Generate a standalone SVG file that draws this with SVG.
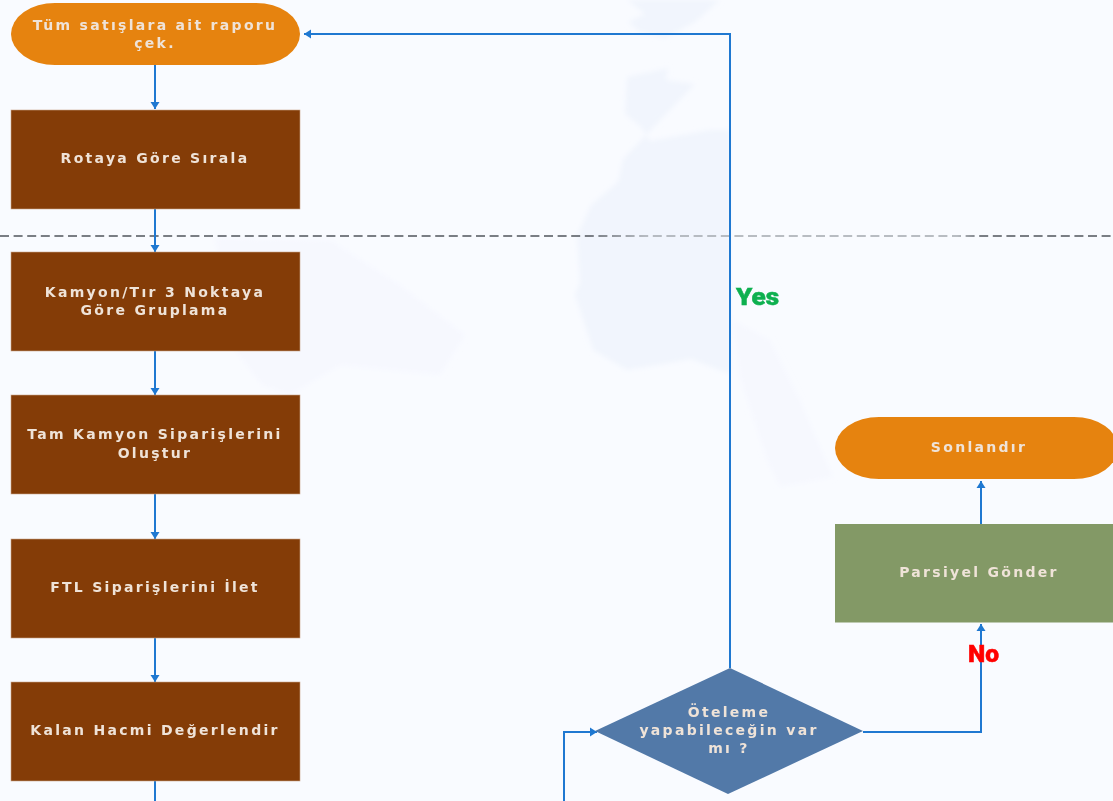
<svg xmlns="http://www.w3.org/2000/svg" width="1113" height="801" viewBox="0 0 1113 801">
<style>
.t{font-family:"DejaVu Sans",sans-serif;font-size:14px;font-weight:700;fill:#efe3d8;text-anchor:middle;letter-spacing:2.300px;filter:url(#s)}
.b{fill:#843c07;stroke:#c9a58a;stroke-width:.6}
.o{fill:#e6830f}
.c{fill:none;stroke:#1f78d1;stroke-width:2}
.m{fill:#f1f5fd}
.n{fill:#f6f8fe}
.l{font-family:"Roboto","DejaVu Sans",sans-serif;font-size:24px;font-weight:900;filter:url(#s);stroke-width:.5}
</style>
<defs>
<filter id="s" x="-10%" y="-30%" width="120%" height="160%"><feGaussianBlur stdDeviation="0.45"/></filter>
<filter id="m" x="-5%" y="-5%" width="110%" height="110%"><feGaussianBlur stdDeviation="2.500"/></filter>
<linearGradient id="d" gradientUnits="userSpaceOnUse" x1="0" y1="0" x2="1113" y2="0">
<stop offset="0" stop-color="#50555c"/><stop offset=".53" stop-color="#50555c"/><stop offset=".58" stop-color="#a3a8ae"/><stop offset=".86" stop-color="#a3a8ae"/><stop offset=".88" stop-color="#50555c"/><stop offset="1" stop-color="#50555c"/>
</linearGradient>
<marker id="a" markerUnits="userSpaceOnUse" markerWidth="9" markerHeight="11" refX="7" refY="5" orient="auto"><path d="M0 0.500L7 5L0 9.500Z" fill="#1f78d1"/></marker>
</defs>
<rect width="1113" height="801" fill="#f9fbff"/>
<g id="map" filter="url(#m)">
<path class="m" d="M627 0H720L695 22L665 38L640 32L628 22L645 14Z"/>
<path class="m" d="M627 77L668 68L666 80L695 84L673 107L645 136L623 159L618 182L591 205L577 236L580 282L575 295L593 350L627 370L664 364L691 359L727 373L730 372V130L709 130L650 141L641 127L625 114Z" />
<path class="n" d="M215 238L330 240L400 285L465 335L440 375L340 365L290 395L262 385L235 350Z"/>
<path class="n" d="M733 320L740 377L767 460L780 487L833 477L800 400L770 340Z"/>
</g>
<line id="swimlane" x1="0" y1="236" x2="1113" y2="236" stroke="url(#d)" stroke-width="1.600" stroke-dasharray="9 4.600"/>
<g id="connectors">
<path class="c" marker-end="url(#a)" d="M155 64V109"/>
<path class="c" marker-end="url(#a)" d="M155 208V252"/>
<path class="c" marker-end="url(#a)" d="M155 351V395"/>
<path class="c" marker-end="url(#a)" d="M155 494V539"/>
<path class="c" marker-end="url(#a)" d="M155 638V682"/>
<path class="c" d="M155 781V801"/>
<path class="c" marker-end="url(#a)" d="M730 668V34H304"/>
<path class="c" marker-end="url(#a)" d="M863 732H981V624"/>
<path class="c" marker-end="url(#a)" d="M981 525V481"/>
<path class="c" marker-end="url(#a)" d="M564 801V732H597"/>
</g>
<g id="n1"><rect class="o" x="11" y="3" width="289" height="62" rx="44" ry="31"/><text class="t" x="155" y="30">Tüm satışlara ait raporu</text><text class="t" x="155" y="48">çek.</text></g>
<g id="n2"><rect class="b" x="11" y="110" width="289" height="99"/><text class="t" x="155" y="163">Rotaya Göre Sırala</text></g>
<g id="n3"><rect class="b" x="11" y="252" width="289" height="99"/><text class="t" x="155" y="297">Kamyon/Tır 3 Noktaya</text><text class="t" x="155" y="315">Göre Gruplama</text></g>
<g id="n4"><rect class="b" x="11" y="395" width="289" height="99"/><text class="t" x="155" y="439">Tam Kamyon Siparişlerini</text><text class="t" x="155" y="458">Oluştur</text></g>
<g id="n5"><rect class="b" x="11" y="539" width="289" height="99"/><text class="t" x="155" y="592">FTL Siparişlerini İlet</text></g>
<g id="n6"><rect class="b" x="11" y="682" width="289" height="99"/><text class="t" x="155" y="735">Kalan Hacmi Değerlendir</text></g>
<g id="n7"><path d="M730 668L863 731L728 794L595 731Z" fill="#5279a8"/><text class="t" x="729" y="717">Öteleme</text><text class="t" x="729" y="735">yapabileceğin var</text><text class="t" x="729" y="753">mı ?</text></g>
<g id="n8"><rect x="835" y="524" width="278" height="98.500" fill="#839966"/><text class="t" x="979" y="577">Parsiyel Gönder</text></g>
<g id="n9"><rect class="o" x="835" y="417" width="283" height="62" rx="44" ry="31"/><text class="t" x="979" y="452">Sonlandır</text></g>
<text class="l" x="736" y="305" fill="#0fb050" stroke="#0fb050" textLength="43" lengthAdjust="spacingAndGlyphs">Yes</text>
<text class="l" x="968" y="662" fill="#ff0000" stroke="#ff0000" textLength="31" lengthAdjust="spacingAndGlyphs">No</text>
</svg>
